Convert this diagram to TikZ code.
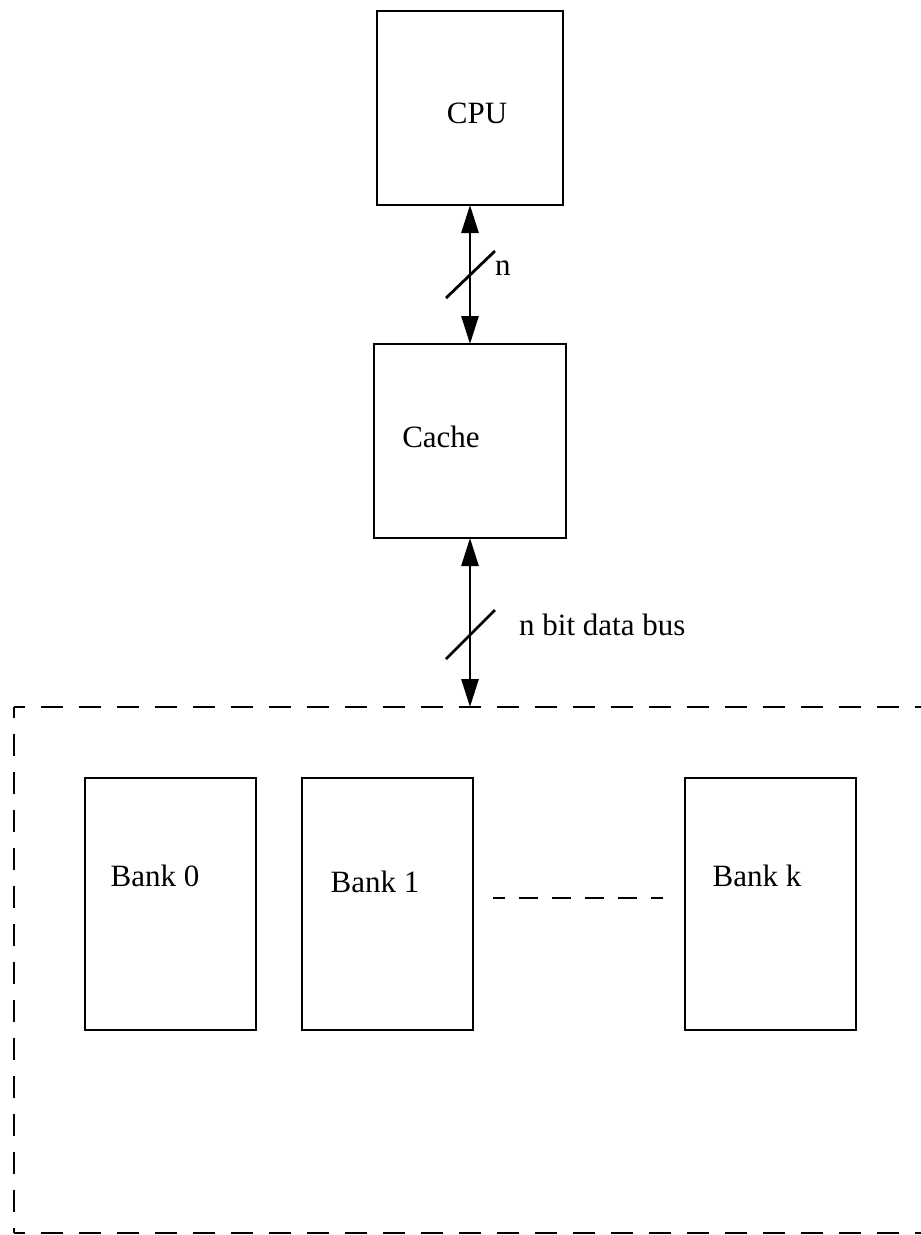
\documentclass[tikz,border=0pt]{standalone}
\usepackage{fontspec}
\setmainfont{Liberation Serif}
\usetikzlibrary{arrows.meta}
\tikzset{
  box/.style={draw, line width=2.8pt, rectangle, inner sep=0pt, outer sep=0pt},
  bus/.style={line width=2.8pt, {Triangle[length=28pt,width=17pt]}-{Triangle[length=28pt,width=17pt]}},
  tick/.style={line width=2.8pt},
  frame/.style={line width=2.8pt, dash pattern=on 22pt off 16pt, dash phase=11pt},
  gapline/.style={line width=2.8pt, dash pattern=on 19pt off 14pt, dash phase=7pt},
  lbl/.style={anchor=base, inner sep=0pt, font=\fontsize{31}{37}\selectfont}
}
\begin{document}
\begin{tikzpicture}[x=1pt, y=-1pt]
  % page area
  \useasboundingbox (0,0) rectangle (921,1235);
  \clip (0,0) rectangle (921,1235);
  \fill[white] (0,0) rectangle (921,1235);

  % processor and cache
  \node[box, minimum width=186pt, minimum height=194pt] (cpu) at (470,108) {};
  \node[box, minimum width=192pt, minimum height=194pt] (cache) at (470,441) {};
  \node[lbl] (cputxt) at (477,123) {CPU};
  \node[lbl] (cachetxt) at (441,447) {Cache};

  % memory module outline (dashed, runs off the right edge)
  \coordinate (memtl) at (14,707);
  \coordinate (memtr) at (960,707);
  \coordinate (membl) at (14,1233);
  \coordinate (membr) at (960,1233);
  \coordinate (memtop) at (470,707);
  \draw[frame] (memtl) -- (memtr);
  \draw[frame] (memtl) -- (membl);
  \draw[frame] (membl) -- (membr);

  % banks
  \node[box, minimum width=171pt, minimum height=252pt] (bank0) at (170.5,904) {};
  \node[box, minimum width=171pt, minimum height=252pt] (bank1) at (387.5,904) {};
  \node[box, minimum width=171pt, minimum height=252pt] (bankk) at (770.5,904) {};
  \node[lbl] (b0txt) at (155,886) {Bank 0};
  \node[lbl] (b1txt) at (375,892) {Bank 1};
  \node[lbl] (bktxt) at (757,886) {Bank k};

  % ellipsis between banks
  \coordinate (gapL) at (493,898);
  \coordinate (gapR) at (663,898);
  \draw[gapline] (gapL) -- (gapR);

  % buses
  \draw[bus] (cpu.south) -- (cache.north);
  \draw[bus] (cache.south) -- (memtop);
  \draw[tick] (446,298) -- (495,251);
  \draw[tick] (446,659) -- (495,610);
  \node[lbl, anchor=base west] (ntxt) at (495,275) {n};
  \node[lbl, anchor=base west] (bustxt) at (519,635) {n bit data bus};
\end{tikzpicture}
\end{document}
